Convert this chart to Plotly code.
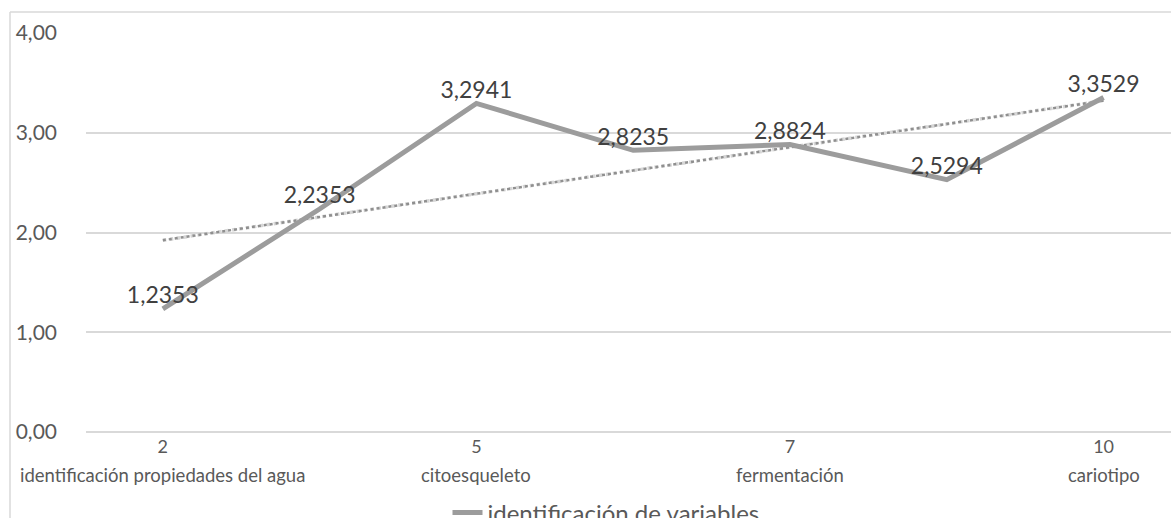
import plotly.graph_objects as go
import numpy as np

# ---- data ----
values = [1.2353, 2.2353, 3.2941, 2.8235, 2.8824, 2.5294, 3.3529]
label_pos = [0, 2, 4, 6]
label_nums = ["2", "5", "7", "10"]
label_names = ["identificación propiedades del agua", "citoesqueleto", "fermentación", "cariotipo"]
series_name = "identificación de variables"
y_ticks = [0, 1, 2, 3, 4]

x = list(range(len(values)))
slope, intercept = np.polyfit(x, values, 1)
trend = [slope * i + intercept for i in x]
texts = [f"{v:.4f}".replace(".", ",") for v in values]

W, H = 1171, 518
ml, mr, mt, mb = 86, 0, 33, 86
pw, ph = W - ml - mr, H - mt - mb

def px_to_paper_x(px):
    return (px - ml) / pw

def px_to_paper_y(py):
    return (H - mb - py) / ph

FONT = "Lato"

fig = go.Figure()
fig.add_trace(go.Scatter(
    x=x, y=trend, mode="lines", showlegend=False, hoverinfo="skip",
    line=dict(color="#d6d6d6", width=3.5, dash="dot"),
))
fig.add_trace(go.Scatter(
    x=x, y=trend, mode="lines", showlegend=False, hoverinfo="skip",
    line=dict(color="#8f8f8f", width=2.5, dash="dot"),
))
fig.add_trace(go.Scatter(
    x=x, y=values, mode="lines+text", name=series_name,
    line=dict(color="#9c9c9c", width=5),
    text=texts, textposition="top center",
    textfont=dict(family=FONT, size=23, color="#404040"),
))

annotations = []
for p, name in zip(label_pos, label_names):
    annotations.append(dict(
        x=p, xref="x", y=px_to_paper_y(475), yref="paper",
        text=name, showarrow=False, xanchor="center", yanchor="middle",
        font=dict(family=FONT, size=18.5, color="#595959"),
    ))

shapes = [
    dict(type="line", xref="paper", yref="paper",
         x0=px_to_paper_x(10), x1=px_to_paper_x(1175), y0=px_to_paper_y(12), y1=px_to_paper_y(12),
         line=dict(color="#d9d9d9", width=1.5)),
    dict(type="line", xref="paper", yref="paper",
         x0=px_to_paper_x(10), x1=px_to_paper_x(10), y0=px_to_paper_y(12), y1=px_to_paper_y(520),
         line=dict(color="#d9d9d9", width=1.5)),
]

fig.update_layout(
    width=W, height=H,
    margin=dict(l=ml, r=mr, t=mt, b=mb, pad=0, autoexpand=False),
    paper_bgcolor="white", plot_bgcolor="white",
    separators=",.",
    font=dict(family=FONT, color="#595959"),
    xaxis=dict(
        range=[-0.49, 6.43], tickmode="array", tickvals=label_pos, ticktext=label_nums,
        showgrid=False, zeroline=False, showline=False, ticks="",
        tickfont=dict(family=FONT, size=18, color="#595959"),
        ticklabelstandoff=2,
    ),
    yaxis=dict(
        range=[0, 4], tickmode="array", tickvals=y_ticks, tickformat=".2f",
        showgrid=True, gridcolor="#d9d9d9", gridwidth=1.5,
        zeroline=True, zerolinecolor="#d9d9d9", zerolinewidth=1.5,
        showline=False, ticks="",
        tickfont=dict(family=FONT, size=21, color="#595959"),
        ticklabelstandoff=28,
    ),
    legend=dict(
        orientation="h", x=px_to_paper_x(606), xanchor="center",
        y=px_to_paper_y(513), yanchor="middle",
        font=dict(family=FONT, size=24, color="#595959"),
        bgcolor="rgba(0,0,0,0)",
    ),
    annotations=annotations,
    shapes=shapes,
    showlegend=True,
)

fig.write_html("out.html")
